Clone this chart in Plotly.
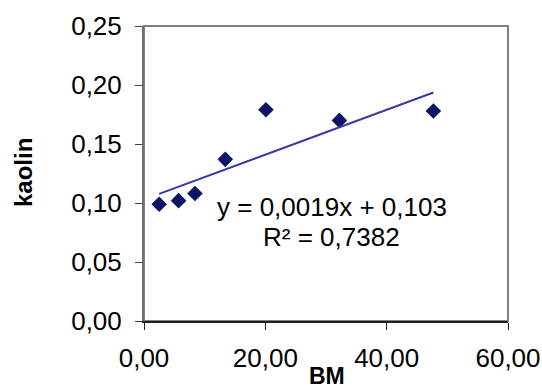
import numpy as np
import plotly.graph_objects as go

bm = [2.5, 5.7, 8.4, 13.4, 20.1, 32.2, 47.7]
kaolin = [0.099, 0.102, 0.108, 0.137, 0.179, 0.170, 0.178]
slope = 0.0019
intercept = 0.103
eq_text = "y = 0,0019x + 0,103"
r2_text = "R² = 0,7382"
x_ticks = [0, 20, 40, 60]
x_ticklabels = ["0,00", "20,00", "40,00", "60,00"]
y_ticks = [0, 0.05, 0.10, 0.15, 0.20, 0.25]
y_ticklabels = ["0,00", "0,05", "0,10", "0,15", "0,20", "0,25"]

FONT = "Liberation Sans, Arial, sans-serif"

xs = np.array([min(bm), max(bm)])
ys = slope * xs + intercept

fig = go.Figure()
fig.add_trace(go.Scatter(x=bm, y=kaolin, mode="markers",
                         marker=dict(symbol="diamond", size=12, color="#0d1466",
                                     line=dict(width=0)),
                         showlegend=False, cliponaxis=False))
fig.add_trace(go.Scatter(x=xs, y=ys, mode="lines",
                         line=dict(color="#3a3aa0", width=2),
                         showlegend=False))

fig.add_shape(type="rect", xref="x domain", yref="y domain", x0=0, x1=1, y0=0, y1=1,
              line=dict(color="#808080", width=2), layer="below")

L, R, T, B = 144, 508, 26, 321


def px(x):
    return (x - L) / (R - L)


def py(y):
    return (B - y) / (B - T)


def ann(x, y, text, size, angle=0, pad=1):
    return dict(x=px(x), y=py(y), xref="paper", yref="paper", text=text,
                xanchor="center", yanchor="middle", textangle=angle, showarrow=False,
                borderpad=pad, font=dict(size=size, color="black", family=FONT))


fig.update_layout(
    width=542, height=389,
    margin=dict(l=L, r=542 - R, t=T, b=389 - B, autoexpand=False),
    paper_bgcolor="white", plot_bgcolor="white",
    font=dict(family=FONT, color="black"),
    annotations=[
        ann(332, 207, eq_text, 26),
        ann(331, 237, r2_text, 26),
        ann(327, 376, "<b>BM</b>", 23, pad=0),
        ann(23, 173, "<b>kaolin</b>", 24, -90),
    ],
    xaxis=dict(range=[0, 60], tickvals=x_ticks, ticktext=x_ticklabels, automargin=False,
               showgrid=False, zeroline=False, showline=True, linecolor="#202020", linewidth=2,
               ticks="outside", ticklen=7, tickcolor="#202020", tickwidth=1,
               tickfont=dict(size=26, family=FONT, color="black"), ticklabelstandoff=6),
    yaxis=dict(range=[0, 0.25], tickvals=y_ticks, ticktext=y_ticklabels, automargin=False,
               showgrid=False, zeroline=False, showline=True, linecolor="#707070", linewidth=2,
               ticks="outside", ticklen=7, tickcolor="#404040", tickwidth=1,
               tickfont=dict(size=26, family=FONT, color="black"), ticklabelstandoff=8),
)

fig.write_html("out.html")
